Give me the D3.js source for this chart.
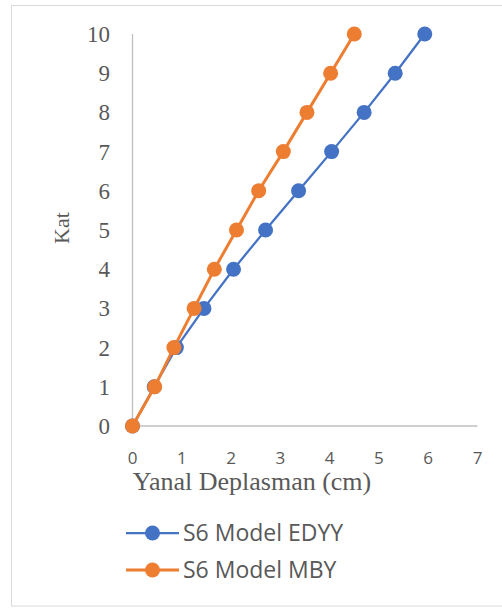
<!DOCTYPE html>
<html>
<head>
<meta charset="utf-8">
<script src="https://cdn.jsdelivr.net/npm/d3@7"></script>
<style>
  body { margin: 0; background: #fff; }
  svg { display: block; }
</style>
</head>
<body>
<div id="chart"></div>
<script>
// Storey levels and lateral displacement (cm) for each model
const floors = [0, 1, 2, 3, 4, 5, 6, 7, 8, 9, 10];
const edyy = [0, 0.44, 0.89, 1.45, 2.05, 2.70, 3.37, 4.04, 4.70, 5.33, 5.93];
const mby  = [0, 0.45, 0.84, 1.25, 1.66, 2.11, 2.56, 3.06, 3.54, 4.02, 4.50];
const xTicks = [0, 1, 2, 3, 4, 5, 6, 7];
const yTicks = [0, 1, 2, 3, 4, 5, 6, 7, 8, 9, 10];
const seriesNames = ["S6 Model EDYY", "S6 Model MBY"];
const seriesColors = ["#4472C4", "#ED7D31"];

const W = 502, H = 608;
const svg = d3.select("#chart").append("svg").attr("width", W).attr("height", H);

// chart frame
svg.append("rect")
  .attr("x", 11.5).attr("y", 5.5).attr("width", 500).attr("height", 600.5)
  .attr("fill", "#fff").attr("stroke", "#d9d9d9").attr("stroke-width", 1);

const x = d3.scaleLinear().domain([0, 7]).range([132.5, 477.5]);
const y = d3.scaleLinear().domain([0, 10]).range([426, 34]);

const axisColor = "#bfbfbf";
const textColor = "#595959";
const serif = "'Liberation Serif', 'Times New Roman', serif";
const sans = "'Open Sans', 'Liberation Sans', sans-serif";

// axes lines
svg.append("line").attr("x1", x(0)).attr("x2", x(7)).attr("y1", y(0)).attr("y2", y(0))
  .attr("stroke", axisColor).attr("stroke-width", 1.3);
svg.append("line").attr("x1", x(0)).attr("x2", x(0)).attr("y1", y(0)).attr("y2", y(10))
  .attr("stroke", axisColor).attr("stroke-width", 1.3);

// y tick labels
svg.append("g").selectAll("text").data(yTicks).join("text")
  .attr("x", 110).attr("y", d => y(d)).attr("dy", "0.35em")
  .attr("text-anchor", "end")
  .attr("font-family", serif)
  .attr("font-size", 23).attr("fill", textColor)
  .text(d => d);

// x tick labels
svg.append("g").selectAll("text").data(xTicks).join("text")
  .attr("x", d => x(d)).attr("y", 458).attr("dy", "0.35em")
  .attr("text-anchor", "middle")
  .attr("font-family", sans)
  .attr("font-size", 17).attr("fill", textColor)
  .text(d => d);

// axis titles
svg.append("text")
  .attr("x", 252).attr("y", 490)
  .attr("text-anchor", "middle")
  .attr("font-family", serif)
  .attr("font-size", 26).attr("fill", textColor)
  .text("Yanal Deplasman (cm)");

svg.append("text")
  .attr("transform", "translate(69,228) rotate(-90)")
  .attr("text-anchor", "middle")
  .attr("font-family", serif)
  .attr("font-size", 22).attr("fill", textColor)
  .text("Kat");

const line = d3.line().x(d => x(d[0])).y(d => y(d[1]));
const series = [edyy, mby].map((vals, i) => ({
  name: seriesNames[i],
  color: seriesColors[i],
  width: i === 0 ? 2.25 : 3,
  pts: vals.map((v, j) => [v, floors[j]])
}));

series.forEach(s => {
  svg.append("path").datum(s.pts)
    .attr("fill", "none").attr("stroke", s.color).attr("stroke-width", s.width)
    .attr("d", line);
  svg.append("g").selectAll("circle").data(s.pts).join("circle")
    .attr("cx", d => x(d[0])).attr("cy", d => y(d[1])).attr("r", 7.5)
    .attr("fill", s.color);
});

// legend
const legend = svg.append("g");
series.forEach((s, i) => {
  const ly = 533 + i * 37;
  legend.append("line").attr("x1", 126).attr("x2", 179).attr("y1", ly).attr("y2", ly)
    .attr("stroke", s.color).attr("stroke-width", s.width);
  legend.append("circle").attr("cx", 152.5).attr("cy", ly).attr("r", 7.5).attr("fill", s.color);
  legend.append("text").attr("x", 183).attr("y", ly).attr("dy", "0.36em")
    .attr("font-family", sans)
    .attr("font-size", 23).attr("fill", textColor)
    .text(s.name);
});
</script>
</body>
</html>
